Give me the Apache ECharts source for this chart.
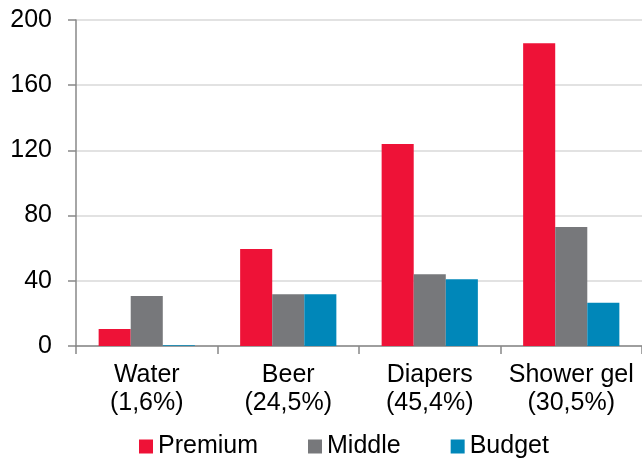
<!DOCTYPE html>
<html><head><meta charset="utf-8">
<script src="https://cdn.jsdelivr.net/npm/echarts@6/dist/echarts.min.js"></script>
<style>html,body{margin:0;padding:0;background:#fff}#c{width:642px;height:464px}</style>
</head><body><div id="c"></div>
<script>
const categories = ["Water\n(1,6%)", "Beer\n(24,5%)", "Diapers\n(45,4%)", "Shower gel\n(30,5%)"];
const premium = [10.4, 59.5, 124, 185.7];
const middle = [30.7, 31.7, 44, 73];
const budget = [0.5, 31.7, 41, 26.6];
const yTicks = { min: 0, max: 200, interval: 40 };

const font = "Liberation Sans";
const chart = echarts.init(document.getElementById('c'), null, {renderer: 'canvas'});
chart.setOption({
  animation: false,
  textStyle: { fontFamily: font },
  grid: { left: 76, top: 20, right: -2, bottom: 118, containLabel: false },
  legend: {
    left: 134, bottom: 0,
    icon: 'rect', itemWidth: 14, itemHeight: 14, itemGap: 50,
    textStyle: { fontFamily: font, fontSize: 25, color: '#000' },
    data: ['Premium', 'Middle', 'Budget']
  },
  xAxis: {
    type: 'category', data: categories,
    axisLine: { lineStyle: { color: '#888', width: 1.5 } },
    axisTick: { show: true, length: 8, lineStyle: { color: '#888', width: 1.5 } },
    axisLabel: { fontFamily: font, fontSize: 25, color: '#000', lineHeight: 28, margin: 15, interval: 0 }
  },
  yAxis: {
    type: 'value', min: yTicks.min, max: yTicks.max, interval: yTicks.interval,
    axisLine: { show: true, lineStyle: { color: '#888', width: 1.5 } },
    axisTick: { show: true, length: 8, lineStyle: { color: '#888', width: 1.5 } },
    axisLabel: { fontFamily: font, fontSize: 25, color: '#000', margin: 24 },
    splitLine: { lineStyle: { color: '#d9d9d9', width: 1.5 } }
  },
  series: [
    { name: 'Premium', type: 'bar', data: premium, itemStyle: { color: '#EE1237' }, barGap: '0%', barCategoryGap: '32%' },
    { name: 'Middle', type: 'bar', data: middle, itemStyle: { color: '#77787B' } },
    { name: 'Budget', type: 'bar', data: budget, itemStyle: { color: '#0087B9' } }
  ]
});
</script></body></html>
